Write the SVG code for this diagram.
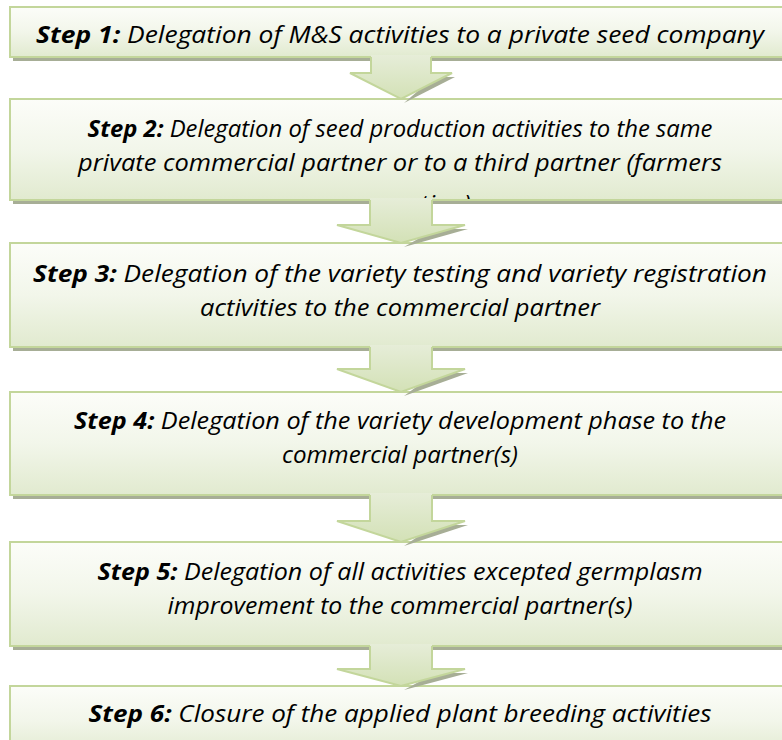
<svg xmlns="http://www.w3.org/2000/svg" width="782" height="740" viewBox="0 0 782 740">
  <style>
    .box { fill: url(#boxFill); stroke: #c3d69b; stroke-width: 2; }
    .shadow { fill: #a7ae96; }
    .label { font-family: "Open Sans", "Liberation Sans", sans-serif; font-style: italic; font-size: 23px; fill: #000; text-anchor: middle; }
    .step { font-weight: bold; }
    .arrowFill { fill: url(#arrowFill); stroke: none; }
    .arrowEdge { fill: none; stroke: #c3d69b; stroke-width: 2; stroke-linejoin: miter; }
    .arrowShadow { fill: #a7ae96; }
  </style>
  <defs>
    <linearGradient id="boxFill" x1="0" y1="0" x2="0" y2="1">
      <stop offset="0" stop-color="#fcfdf9"/>
      <stop offset="0.5" stop-color="#f2f6ea"/>
      <stop offset="1" stop-color="#e1eacf"/>
    </linearGradient>
    <linearGradient id="arrowFill" x1="0" y1="0" x2="0" y2="1">
      <stop offset="0" stop-color="#e6edd8"/>
      <stop offset="1" stop-color="#d3e1b6"/>
    </linearGradient>
    <clipPath id="clip2">
      <rect x="10" y="99" width="790" height="100"/>
    </clipPath>
  </defs>

  <!-- step boxes -->
  <g id="step1">
    <rect class="shadow" x="13" y="11" width="790" height="50"/>
    <rect class="box" x="10" y="7" width="790" height="50"/>
    <text class="label" x="400" y="43" textLength="728" lengthAdjust="spacingAndGlyphs"><tspan class="step">Step 1:</tspan> Delegation of M&amp;S activities to a private seed company</text>
  </g>

  <g id="step2">
    <rect class="shadow" x="13" y="103" width="790" height="101"/>
    <rect class="box" x="10" y="99" width="790" height="101"/>
    <!-- the third line overflows the box and is cut at its lower edge -->
    <g clip-path="url(#clip2)">
      <text class="label" x="400" y="137" textLength="625" lengthAdjust="spacingAndGlyphs"><tspan class="step">Step 2:</tspan> Delegation of seed production activities to the same</text>
      <text class="label" x="400" y="171" textLength="644" lengthAdjust="spacingAndGlyphs">private commercial partner or to a third partner (farmers</text>
      <text class="label" x="400" y="212" textLength="142" lengthAdjust="spacingAndGlyphs">cooperation)</text>
    </g>
  </g>

  <g id="step3">
    <rect class="shadow" x="13" y="247" width="790" height="104"/>
    <rect class="box" x="10" y="243" width="790" height="104"/>
    <text class="label" x="400" y="282" textLength="734" lengthAdjust="spacingAndGlyphs"><tspan class="step">Step 3:</tspan> Delegation of the variety testing and variety registration</text>
    <text class="label" x="400" y="316" textLength="400" lengthAdjust="spacingAndGlyphs">activities to the commercial partner</text>
  </g>

  <g id="step4">
    <rect class="shadow" x="13" y="396" width="790" height="103"/>
    <rect class="box" x="10" y="392" width="790" height="103"/>
    <text class="label" x="400" y="429" textLength="652" lengthAdjust="spacingAndGlyphs"><tspan class="step">Step 4:</tspan> Delegation of the variety development phase to the</text>
    <text class="label" x="400" y="463" textLength="236" lengthAdjust="spacingAndGlyphs">commercial partner(s)</text>
  </g>

  <g id="step5">
    <rect class="shadow" x="13" y="546" width="790" height="104"/>
    <rect class="box" x="10" y="542" width="790" height="104"/>
    <text class="label" x="400" y="580" textLength="605" lengthAdjust="spacingAndGlyphs"><tspan class="step">Step 5:</tspan> Delegation of all activities excepted germplasm</text>
    <text class="label" x="400" y="614" textLength="465" lengthAdjust="spacingAndGlyphs">improvement to the commercial partner(s)</text>
  </g>

  <g id="step6">
    <rect class="shadow" x="13" y="690" width="790" height="70"/>
    <rect class="box" x="10" y="686" width="790" height="70"/>
    <text class="label" x="400" y="722" textLength="623" lengthAdjust="spacingAndGlyphs"><tspan class="step">Step 6:</tspan> Closure of the applied plant breeding activities</text>
  </g>

  <!-- block arrows between steps -->
  <g id="connectors">
    <g id="arrow1">
      <polygon class="arrowShadow" points="434,77 455,77 404,103"/>
      <polygon class="arrowFill" points="371,55 431,55 431,73 452,73 401,99 350,73 371,73"/>
      <polyline class="arrowEdge" points="371,57 371,73 350,73 401,99 452,73 431,73 431,57"/>
    </g>
    <g id="arrow2">
      <polygon class="arrowShadow" points="435,229 468,229 404,247"/>
      <polygon class="arrowFill" points="370,198 432,198 432,225 465,225 401,243 337,225 370,225"/>
      <polyline class="arrowEdge" points="370,200 370,225 337,225 401,243 465,225 432,225 432,200"/>
    </g>
    <g id="arrow3">
      <polygon class="arrowShadow" points="435,373 468,373 404,396"/>
      <polygon class="arrowFill" points="370,345 432,345 432,369 465,369 401,392 337,369 370,369"/>
      <polyline class="arrowEdge" points="370,347 370,369 337,369 401,392 465,369 432,369 432,347"/>
    </g>
    <g id="arrow4">
      <polygon class="arrowShadow" points="435,525 468,525 404,546"/>
      <polygon class="arrowFill" points="370,493 432,493 432,521 465,521 401,542 337,521 370,521"/>
      <polyline class="arrowEdge" points="370,495 370,521 337,521 401,542 465,521 432,521 432,495"/>
    </g>
    <g id="arrow5">
      <polygon class="arrowShadow" points="435,673 468,673 404,690"/>
      <polygon class="arrowFill" points="370,644 432,644 432,669 465,669 401,686 337,669 370,669"/>
      <polyline class="arrowEdge" points="370,646 370,669 337,669 401,686 465,669 432,669 432,646"/>
    </g>
  </g>
</svg>
